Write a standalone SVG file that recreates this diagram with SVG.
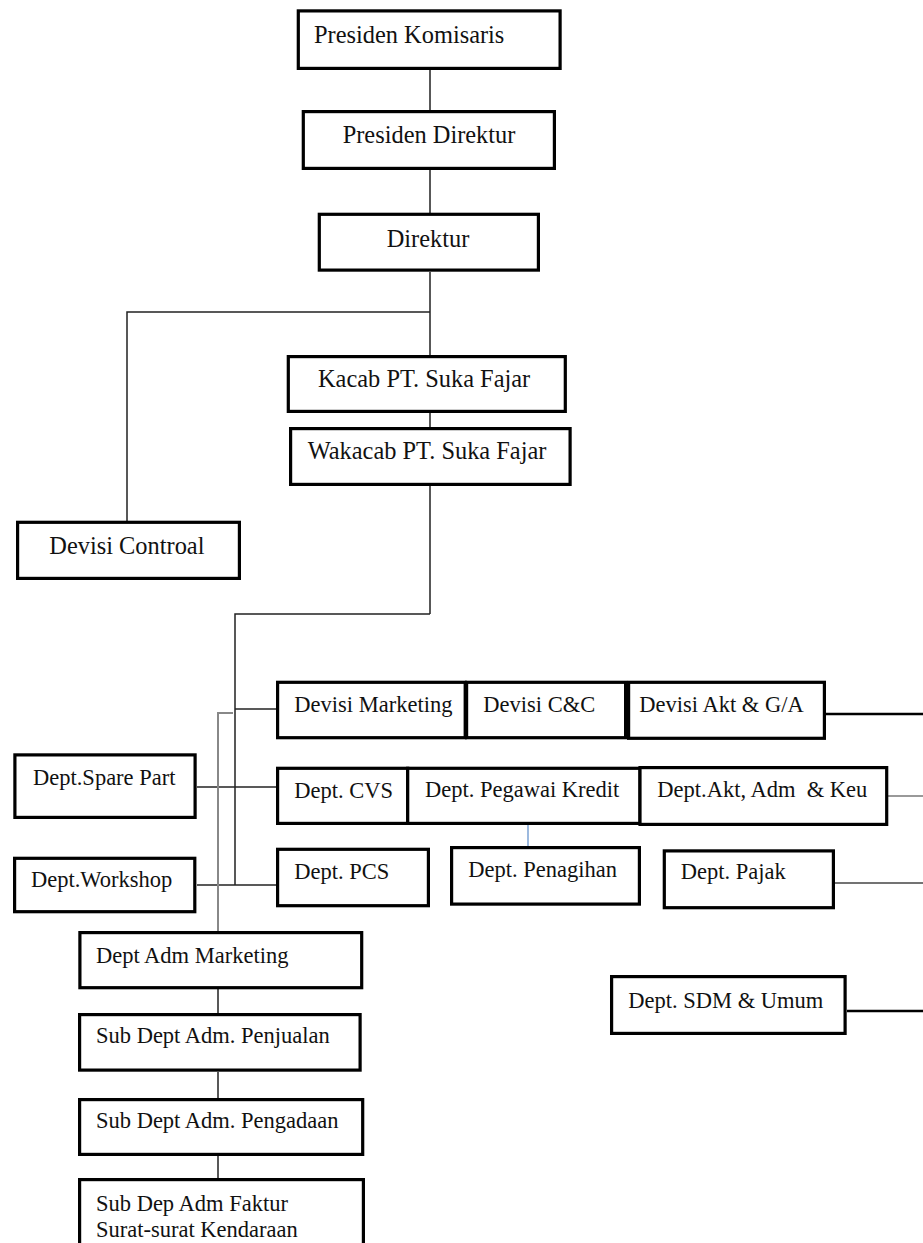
<svg xmlns="http://www.w3.org/2000/svg" width="923" height="1243" viewBox="0 0 923 1243">
<style>
.box{fill:#fff;stroke:#000;stroke-width:3.2}
.t1{font-family:"Liberation Serif","Times New Roman",serif;font-size:24.4px;fill:#111}
.t2{font-family:"Liberation Serif","Times New Roman",serif;font-size:22.5px;fill:#111;white-space:pre}
.ln{stroke:#222;stroke-width:1.5;fill:none}
.gr{stroke:#888;stroke-width:2;fill:none}
.thick{stroke:#000;stroke-width:2.6;fill:none}
.thin{stroke:#777;stroke-width:1.3;fill:none}
.mid{stroke:#444;stroke-width:1.6;fill:none}
.blue{stroke:#5b8bc9;stroke-width:1.2;fill:none}
</style>
<rect width="923" height="1243" fill="#fff"/>
<g id="connectors">
<path class="ln" d="M430 70V111M430 170V214M430 272V356M430 413V428M430 486V614"/>
<path class="ln" d="M430 312H127V521"/>
<path class="ln" d="M430 614H235V885"/>
<path class="ln" d="M235 709H277"/>
<path class="ln" d="M197 787H277"/>
<path class="ln" d="M197 885H277"/>
<path class="gr" d="M233 713H218V932"/>
<path class="ln" d="M218 989V1014M218 1072V1099M218 1156V1179"/>
<path class="blue" d="M528 825V847"/>
<path class="thick" d="M826 714H923"/>
<path class="thin" d="M888 796H923"/>
<path class="mid" d="M835 883H923"/>
<path class="thick" d="M847 1011H923"/>
</g>
<g id="presiden-komisaris"><rect class="box" x="298.3" y="10.9" width="261.8" height="57.5"/><text class="t1" x="314" y="42.5">Presiden Komisaris</text></g>
<g id="presiden-direktur"><rect class="box" x="303.3" y="111.6" width="251.1" height="56.8"/><text class="t1" x="342.7" y="143.3">Presiden Direktur</text></g>
<g id="direktur"><rect class="box" x="319.3" y="214.3" width="219.1" height="55.8"/><text class="t1" x="386.7" y="247">Direktur</text></g>
<g id="kacab"><rect class="box" x="288.3" y="356.6" width="277" height="54.8"/><text class="t1" x="318" y="387">Kacab PT. Suka Fajar</text></g>
<g id="wakacab"><rect class="box" x="290.6" y="428.6" width="279.5" height="55.8"/><text class="t1" x="307.7" y="458.5">Wakacab PT. Suka Fajar</text></g>
<g id="devisi-controal"><rect class="box" x="17.6" y="522.3" width="221.8" height="56.1"/><text class="t1" x="49.3" y="553.5">Devisi Controal</text></g>
<g id="devisi-marketing"><rect class="box" x="277.6" y="682.3" width="187.6" height="55.4"/><text class="t2" x="294.3" y="711.7">Devisi Marketing</text></g>
<g id="devisi-cc"><rect class="box" x="466.6" y="682.3" width="159" height="55.4"/><text class="t2" x="483.3" y="711.7">Devisi C&amp;C</text></g>
<g id="devisi-akt"><rect class="box" x="628.6" y="682.3" width="195.8" height="56"/><text class="t2" x="639.3" y="711.7">Devisi Akt &amp; G/A</text></g>
<g id="dept-spare-part"><rect class="box" x="14.9" y="754.9" width="180.2" height="62.5"/><text class="t2" x="33" y="785">Dept.Spare Part</text></g>
<g id="dept-cvs"><rect class="box" x="277.6" y="768.3" width="130.1" height="55.1"/><text class="t2" x="294.3" y="798">Dept. CVS</text></g>
<g id="dept-pegawai-kredit"><rect class="box" x="407.7" y="768.3" width="232.3" height="55.1"/><text class="t2" x="425" y="797">Dept. Pegawai Kredit</text></g>
<g id="dept-akt-adm-keu"><rect class="box" x="640" y="767.6" width="246.7" height="56.8"/><text class="t2" x="657.3" y="797">Dept.Akt, Adm  &amp; Keu</text></g>
<g id="dept-workshop"><rect class="box" x="14.6" y="858.3" width="180.2" height="53.4"/><text class="t2" x="31" y="887">Dept.Workshop</text></g>
<g id="dept-pcs"><rect class="box" x="277.6" y="849.3" width="150.8" height="56.4"/><text class="t2" x="294.3" y="879.3">Dept. PCS</text></g>
<g id="dept-penagihan"><rect class="box" x="451.6" y="847.6" width="187.8" height="56.5"/><text class="t2" x="468.3" y="876.7">Dept. Penagihan</text></g>
<g id="dept-pajak"><rect class="box" x="664.3" y="850.9" width="169.1" height="56.8"/><text class="t2" x="680.7" y="879.3">Dept. Pajak</text></g>
<g id="dept-sdm-umum"><rect class="box" x="611.6" y="976.6" width="233.5" height="56.8"/><text class="t2" x="628.3" y="1008">Dept. SDM &amp; Umum</text></g>
<g id="dept-adm-marketing"><rect class="box" x="79.9" y="932.6" width="281.8" height="55.1"/><text class="t2" x="96" y="962.7">Dept Adm Marketing</text></g>
<g id="sub-dept-penjualan"><rect class="box" x="79.6" y="1014.6" width="280.5" height="55.5"/><text class="t2" x="96" y="1043.3">Sub Dept Adm. Penjualan</text></g>
<g id="sub-dept-pengadaan"><rect class="box" x="79.6" y="1099.6" width="283.1" height="54.8"/><text class="t2" x="96" y="1128.3">Sub Dept Adm. Pengadaan</text></g>
<g id="sub-dep-faktur"><rect class="box" x="79.6" y="1179.6" width="283.8" height="90"/><text class="t2" x="96" y="1211">Sub Dep Adm Faktur</text><text class="t2" x="96" y="1236.5">Surat-surat Kendaraan</text></g>
</svg>
